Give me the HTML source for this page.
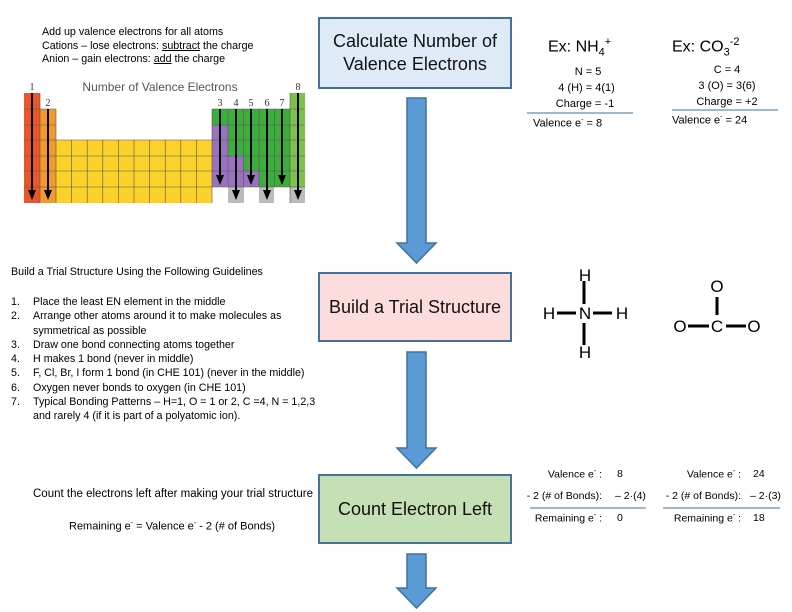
<!DOCTYPE html>
<html><head><meta charset="utf-8"><style>
body{margin:0;width:792px;height:612px;background:#fff;position:relative;overflow:hidden;font-family:"Liberation Sans",sans-serif;color:#000}
.t{position:absolute;white-space:nowrap;font-size:10.7px;line-height:13.5px}
.box{position:absolute;left:318px;width:194px;border:2px solid #41719c;box-sizing:border-box;display:flex;align-items:center;justify-content:center;text-align:center;font-size:18px;line-height:23px;color:#111}
.c{position:absolute;white-space:nowrap;font-size:11px;text-align:right}
</style></head><body>
<div class="t" style="left:42px;top:26px">Add up valence electrons for all atoms<br>Cations – lose electrons: <u>subtract</u> the charge<br>Anion – gain electrons: <u>add</u> the charge</div>

<svg style="position:absolute;left:0;top:0" width="320" height="210">
<defs><marker id="a" markerWidth="5" markerHeight="4" refX="2" refY="2" orient="auto"><path d="M0,0L5,2L0,4z"/></marker></defs>
<text x="160" y="91" font-size="12" fill="#555" text-anchor="middle" font-family="Liberation Sans">Number of Valence Electrons</text>
<g font-family="Liberation Serif" font-size="10" fill="#333" text-anchor="middle">
<text x="32" y="90">1</text><text x="48" y="106">2</text><text x="220" y="106">3</text><text x="236" y="106">4</text><text x="251" y="106">5</text><text x="267" y="106">6</text><text x="282" y="106">7</text><text x="298" y="90">8</text></g>
<rect x="24" y="93" width="16" height="110" fill="#e8562a"/>
<rect x="40" y="109" width="16" height="94" fill="#f39a2c"/>
<rect x="56" y="140" width="156" height="63" fill="#fbd12a"/>
<rect x="212" y="109" width="78" height="78" fill="#3cae3c"/>
<rect x="212" y="125" width="16" height="62" fill="#9b72c0"/>
<rect x="228" y="156" width="16" height="31" fill="#9b72c0"/>
<rect x="244" y="171" width="15" height="16" fill="#9b72c0"/>
<rect x="290" y="93" width="15" height="94" fill="#7cc24a"/>
<rect x="228" y="187" width="16" height="16" fill="#bbb"/>
<rect x="259" y="187" width="15" height="16" fill="#bbb"/>
<rect x="290" y="187" width="15" height="16" fill="#bbb"/>
<g stroke="#555" stroke-width="0.6" fill="none">
<path d="M24 109H56M24 125H56M24 140H305M24 156H305M24 171H305M24 187H305M212 125H305M212 109H305M290 93V203"/>
<path d="M40 93V203M56 109V203M71.6 140V203M87.2 140V203M102.8 140V203M118.4 140V203M134 140V203M149.6 140V203M165.2 140V203M180.8 140V203M196.4 140V203M212 109V203M228 109V187M243.6 109V187M259 109V187M274.6 109V187"/>
</g>
<g stroke="#000" stroke-width="2" marker-end="url(#a)">
<line x1="32" y1="93" x2="32" y2="194"/><line x1="48" y1="109" x2="48" y2="194"/>
<line x1="220" y1="109" x2="220" y2="179"/><line x1="236" y1="109" x2="236" y2="194"/>
<line x1="251" y1="109" x2="251" y2="179"/><line x1="267" y1="109" x2="267" y2="194"/>
<line x1="282" y1="109" x2="282" y2="179"/><line x1="298" y1="93" x2="298" y2="194"/>
</g>
</svg>

<div class="box" style="top:17px;height:72px;background:#deebf7">Calculate Number of<br>Valence Electrons</div>
<div class="box" style="top:272px;height:70px;background:#fcdcdc">Build a Trial Structure</div>
<div class="box" style="top:474px;height:70px;background:#c5e0b4">Count Electron Left</div>

<svg style="position:absolute;left:0;top:0" width="792" height="612">
<g fill="#5b9bd5" stroke="#41719c" stroke-width="1.5">
<path d="M407 98H426V243H436L416.5 263L397 243H407Z"/>
<path d="M407 352H426V448H436L416.5 468L397 448H407Z"/>
<path d="M407 554H426V588H436L416.5 608L397 588H407Z"/>
</g>
<g stroke="#41719c" stroke-width="1"><line x1="527" y1="113" x2="633" y2="113"/><line x1="672" y1="110" x2="778" y2="110"/>
<line x1="530" y1="508" x2="646" y2="508"/><line x1="663" y1="508" x2="780" y2="508"/></g>
<g stroke="#000" stroke-width="3">
<line x1="584" y1="281" x2="584" y2="304"/><line x1="584" y1="323" x2="584" y2="345"/>
<line x1="557" y1="313" x2="576" y2="313"/><line x1="593" y1="313" x2="612" y2="313"/>
<line x1="717" y1="297" x2="717" y2="315"/><line x1="688" y1="326" x2="709" y2="326"/><line x1="726" y1="326" x2="746" y2="326"/>
</g>
<g font-family="Liberation Sans" font-size="17" text-anchor="middle">
<text x="585" y="281">H</text><text x="549" y="319">H</text><text x="585" y="319">N</text><text x="622" y="319">H</text><text x="585" y="358">H</text>
<text x="717" y="292">O</text><text x="680" y="332">O</text><text x="717" y="332">C</text><text x="754" y="332">O</text>
</g>
</svg>

<div class="t" style="left:548px;top:32px;font-size:16px;line-height:20px">Ex: NH<sub style="font-size:11px">4</sub><sup style="font-size:11px">+</sup></div>
<div class="t" style="left:672px;top:32px;font-size:16px;line-height:20px">Ex: CO<sub style="font-size:11px">3</sub><sup style="font-size:11px">-2</sup></div>
<div class="t" style="left:545px;top:64px;font-size:11px;line-height:16px;text-align:center;width:80px">&nbsp;&nbsp;N = 5<br>&nbsp;4 (H) = 4(1)<br>Charge = -1</div>
<div class="t" style="left:533px;top:114px;font-size:11px">Valence e<sup style="font-size:7px">-</sup> = 8</div>
<div class="t" style="left:682px;top:62px;font-size:11px;line-height:16px;text-align:center;width:90px">C = 4<br>3 (O) = 3(6)<br>Charge = +2</div>
<div class="t" style="left:672px;top:111px;font-size:11px">Valence e<sup style="font-size:7px">-</sup> = 24</div>

<div class="t" style="left:11px;top:266px">Build a Trial Structure Using the Following Guidelines</div>
<div class="t" style="left:11px;top:295px;line-height:14.3px">1.<br>2.<br><br>3.<br>4.<br>5.<br>6.<br>7.</div>
<div class="t" style="left:33px;top:295px;line-height:14.3px">Place the least EN element in the middle<br>Arrange other atoms around it to make molecules as<br>symmetrical as possible<br>Draw one bond connecting atoms together<br>H makes 1 bond (never in middle)<br>F, Cl, Br, I form 1 bond (in CHE 101) (never in the middle)<br>Oxygen never bonds to oxygen (in CHE 101)<br>Typical Bonding Patterns – H=1, O = 1 or 2, C =4, N = 1,2,3<br>and rarely 4 (if it is part of a polyatomic ion).</div>

<div class="t" style="left:33px;top:488px;font-size:11.5px">Count the electrons left after making your trial structure</div>
<div class="t" style="left:69px;top:517px;font-size:11px">Remaining e<sup style="font-size:7px">-</sup> = Valence e<sup style="font-size:7px">-</sup> - 2 (# of Bonds)</div>

<div class="c" style="left:500px;width:102px;top:468px;font-size:10.5px">Valence e<sup style="font-size:7px">-</sup> :</div>
<div class="t" style="left:617px;top:468px;font-size:10.5px">8</div>
<div class="c" style="left:500px;width:102px;top:490px;font-size:10.5px">- 2 (# of Bonds):</div>
<div class="t" style="left:615px;top:490px;font-size:10.5px">– 2·(4)</div>
<div class="c" style="left:500px;width:102px;top:512px;font-size:10.5px">Remaining e<sup style="font-size:7px">-</sup> :</div>
<div class="t" style="left:617px;top:512px;font-size:10.5px">0</div>

<div class="c" style="left:640px;width:101px;top:468px;font-size:10.5px">Valence e<sup style="font-size:7px">-</sup> :</div>
<div class="t" style="left:753px;top:468px;font-size:10.5px">24</div>
<div class="c" style="left:640px;width:101px;top:490px;font-size:10.5px">- 2 (# of Bonds):</div>
<div class="t" style="left:750px;top:490px;font-size:10.5px">– 2·(3)</div>
<div class="c" style="left:640px;width:101px;top:512px;font-size:10.5px">Remaining e<sup style="font-size:7px">-</sup> :</div>
<div class="t" style="left:753px;top:512px;font-size:10.5px">18</div>
</body></html>
